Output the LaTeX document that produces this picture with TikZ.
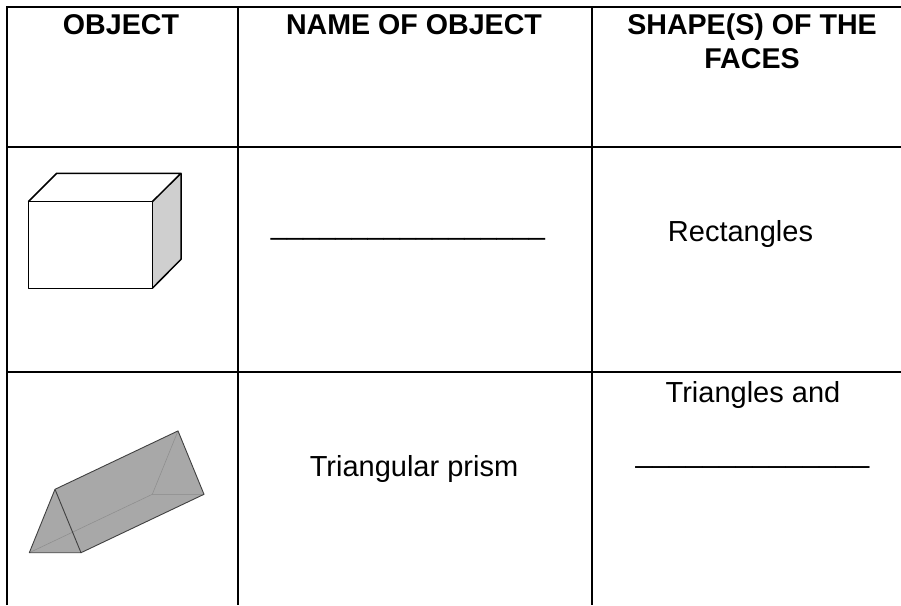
\documentclass[tikz,border=0pt]{standalone}
\usepackage{fontspec}
\setmainfont{Liberation Sans}
\begin{document}
\begin{tikzpicture}[x=1pt,y=-1pt,
  grid/.style={line width=2.4pt,black},
  txt/.style={inner sep=0pt,anchor=base,font=\fontsize{29}{34}\selectfont},
  hdr/.style={inner sep=0pt,anchor=base,font=\fontsize{28.6}{34}\selectfont\bfseries},
  edge/.style={line width=1.5pt,black,line join=round},
  pedge/.style={line width=0.9pt,black!75,line join=round},
  hidden/.style={line width=0.5pt,black!45}]
\useasboundingbox (0,0) rectangle (901,605);
% table grid
\coordinate (tl) at (7,7);
\coordinate (tr) at (901,7);
\coordinate (bl) at (7,605);
\coordinate (h1l) at (7,147);  \coordinate (h1r) at (901,147);
\coordinate (h2l) at (7,372);  \coordinate (h2r) at (901,372);
\coordinate (v1t) at (238,7);  \coordinate (v1b) at (238,605);
\coordinate (v2t) at (592,7);  \coordinate (v2b) at (592,605);
\draw[grid] (bl) -- (tl) -- (tr);
\draw[grid] (h1l) -- (h1r);
\draw[grid] (h2l) -- (h2r);
\draw[grid] (v1t) -- (v1b);
\draw[grid] (v2t) -- (v2b);
% header
\node[hdr] (h1) at (121,34) {OBJECT};
\node[hdr] (h2) at (414,34) {NAME OF OBJECT};
\node[hdr] (h3) at (752,34) {SHAPE(S) OF THE};
\node[hdr] (h3b) at (752,68) {FACES};
% row 1
\node[txt] (blank1) at (408,234.6) {\_\_\_\_\_\_\_\_\_\_\_\_\_\_\_\_\_};
\node[txt] (rect) at (740.5,241.7) {Rectangles};
% row 2
\node[txt] (tp) at (414,476) {Triangular prism};
\node[txt] (tri) at (753,402) {Triangles and};
\node[txt,font=\fontsize{30}{34}\selectfont] (blank2) at (752.5,462.4) {\_\_\_\_\_\_\_\_\_\_\_\_\_\_};
% cube
\coordinate (fa) at (28.3,201.7);
\coordinate (fb) at (152.3,201.7);
\coordinate (fc) at (152.3,288.3);
\coordinate (fd) at (28.3,288.3);
\coordinate (ba) at (56.7,173.3);
\coordinate (bb) at (181,173.3);
\coordinate (bc) at (181,259.3);
\fill[white] (fa) -- (ba) -- (bb) -- (fb) -- cycle;
\fill[black!19] (fb) -- (bb) -- (bc) -- (fc) -- cycle;
\draw[edge] (fa) rectangle (fc);
\draw[edge] (fa) -- (ba) -- (bb) -- (fb);
\draw[edge] (bb) -- (bc) -- (fc);
% prism
\coordinate (pa) at (55,489.3);
\coordinate (pl) at (29.3,552.7);
\coordinate (pr) at (81,552.7);
\coordinate (qa) at (178,430.9);
\coordinate (ql) at (152.3,494.3);
\coordinate (qr) at (204,494.3);
\fill[black!34] (pl) -- (pa) -- (qa) -- (qr) -- (pr) -- cycle;
\draw[hidden] (pl) -- (ql) -- (qr);
\draw[hidden] (ql) -- (qa);
\draw[pedge] (pl) -- (pa) -- (pr) -- cycle;
\draw[pedge] (pa) -- (qa) -- (qr) -- (pr);
\end{tikzpicture}
\end{document}
